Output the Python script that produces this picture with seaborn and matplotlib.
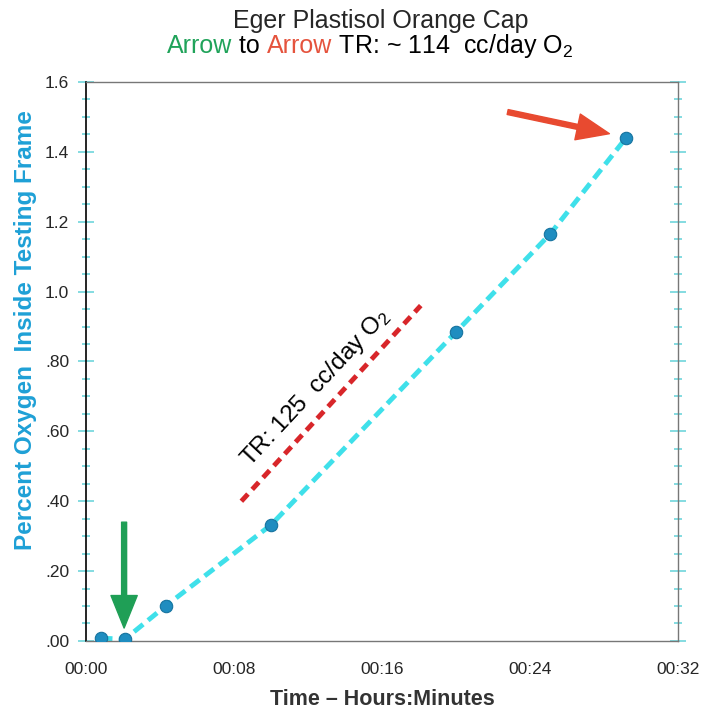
import numpy as np
import pandas as pd
import matplotlib
matplotlib.use("Agg")
import matplotlib.pyplot as plt
from matplotlib.ticker import MultipleLocator, FixedLocator, FixedFormatter
import seaborn as sns

# --- data ---
minutes = [0.8, 2.1, 4.3, 10.0, 20.0, 25.1, 29.2]
pct_o2 = [0.008, 0.005, 0.10, 0.332, 0.884, 1.165, 1.44]

x_major = [0, 8, 16, 24, 32]
x_labels = ["00:00", "00:08", "00:16", "00:24", "00:32"]
y_major = [0.0, 0.2, 0.4, 0.6, 0.8, 1.0, 1.2, 1.4, 1.6]
y_labels = [".00", ".20", ".40", ".60", ".80", "1.0", "1.2", "1.4", "1.6"]

# reference rate line and arrows (data coords)
tr_line_x = [8.4, 18.1]
tr_line_y = [0.40, 0.96]
green_arrow = [(2.06, 0.34), (2.06, 0.037)]
red_arrow = [(22.8, 1.514), (28.3, 1.452)]

df = pd.DataFrame({"minutes": minutes, "pct": pct_o2})

sns.set_style("white")
plt.rcParams["font.family"] = ["Liberation Sans", "DejaVu Sans"]
plt.rcParams["mathtext.default"] = "regular"

CYAN = "#3fe0ea"
TICK_CYAN = "#6fd6dc"
DOT = "#1f8dc0"
LABEL_BLUE = "#1ea0d6"

fig = plt.figure(figsize=(7.15, 7.11), dpi=100)
ax = fig.add_axes([0.1203, 0.0985, 0.8277, 0.7862])

sns.lineplot(data=df, x="minutes", y="pct", ax=ax, color=CYAN, lw=3.5,
             linestyle=(0, (2.4, 1.3)), zorder=2)
sns.scatterplot(data=df, x="minutes", y="pct", ax=ax, color=DOT, s=80,
                edgecolor="#16739f", linewidth=0.8, zorder=3)

# TR reference line
ax.plot(tr_line_x, tr_line_y, color="#d8262a", lw=3.5,
        linestyle=(0, (2.0, 1.3)), zorder=2)
ax.text(12.45, 0.724, "TR: 125  cc/day O$_2$", rotation=47,
        rotation_mode="anchor", ha="center", va="center", fontsize=17.5,
        color="black")

# arrows
arrow_style = "simple,head_length=1.3,head_width=1.05,tail_width=0.2"
ax.annotate("", xy=green_arrow[1], xytext=green_arrow[0],
            arrowprops=dict(arrowstyle=arrow_style, color="#1f9f56",
                            mutation_scale=18, shrinkA=0, shrinkB=0))
ax.annotate("", xy=red_arrow[1], xytext=red_arrow[0],
            arrowprops=dict(arrowstyle=arrow_style, color="#e84a30",
                            mutation_scale=18, shrinkA=0, shrinkB=0))

ax.set_xlim(0, 32)
ax.set_ylim(0, 1.6)

ax.xaxis.set_major_locator(FixedLocator(x_major))
ax.xaxis.set_major_formatter(FixedFormatter(x_labels))
ax.xaxis.set_minor_locator(MultipleLocator(2))
ax.yaxis.set_major_locator(FixedLocator(y_major))
ax.yaxis.set_major_formatter(FixedFormatter(y_labels))
ax.yaxis.set_minor_locator(MultipleLocator(0.05))

ax.tick_params(axis="x", which="major", direction="inout", length=11, width=2,
               color="black", labelsize=12.5, pad=10)
ax.tick_params(axis="x", which="minor", direction="inout", length=7, width=2,
               color="black")
ax.tick_params(axis="y", which="both", direction="inout", left=True, right=True,
               color=TICK_CYAN, width=1.2, labelsize=12.5, pad=6)
ax.tick_params(axis="y", which="major", length=12)
ax.tick_params(axis="y", which="minor", length=6)

for side in ["top", "right", "bottom"]:
    ax.spines[side].set_color("#777777")
    ax.spines[side].set_linewidth(1.0)
ax.spines["left"].set_color("black")
ax.spines["left"].set_linewidth(1.2)

ax.set_xlabel("Time – Hours:Minutes", fontsize=15.5, fontweight="bold",
              color="#333333", va="baseline")
ax.xaxis.set_label_coords(0.5, -0.115)
ax.set_ylabel("Percent Oxygen  Inside Testing Frame", fontsize=17.5,
              fontweight="bold", color=LABEL_BLUE, va="center", ha="center")
ax.yaxis.set_label_coords(-0.103, 0.556)

# title, second line in three colours
fig.text(0.533, 0.970, "Eger Plastisol Orange Cap", ha="center", va="center",
         fontsize=18)
parts = [("Arrow", "#20a35a"), (" to ", "black"), ("Arrow", "#e5533d"),
         (" TR: ~ 114  cc/day O$_2$", "black")]
renderer = fig.canvas.get_renderer()
texts = [fig.text(0, 0.935, s, color=c, fontsize=18, ha="left", va="center")
         for s, c in parts]
widths = [t.get_window_extent(renderer).width for t in texts]
total = sum(widths)
x0 = 0.518 * fig.bbox.width - total / 2
for t, w in zip(texts, widths):
    t.set_x(x0 / fig.bbox.width)
    x0 += w

fig.savefig("out.png", dpi=100)
